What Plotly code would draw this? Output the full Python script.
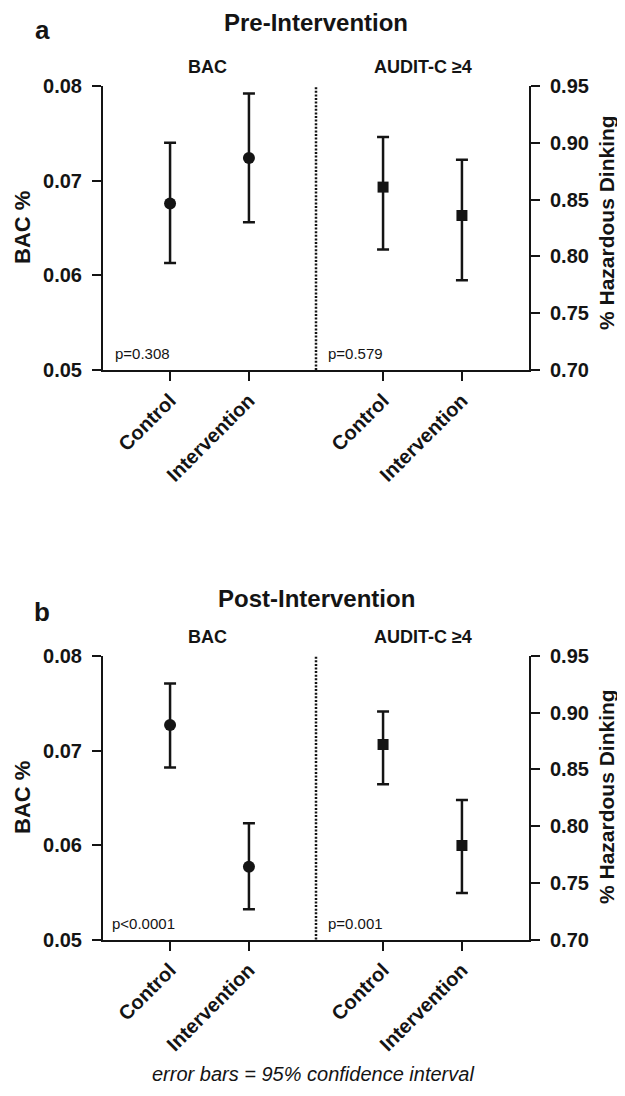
import plotly.graph_objects as go

groups = ["Control", "Intervention"]

# Panel a: Pre-Intervention
pre_bac_mean = [0.0676, 0.0724]
pre_bac_low = [0.0613, 0.0656]
pre_bac_high = [0.0740, 0.0792]
pre_aud_mean = [0.861, 0.836]
pre_aud_low = [0.806, 0.779]
pre_aud_high = [0.905, 0.885]

# Panel b: Post-Intervention
post_bac_mean = [0.0727, 0.0577]
post_bac_low = [0.0682, 0.0532]
post_bac_high = [0.0771, 0.0623]
post_aud_mean = [0.872, 0.783]
post_aud_low = [0.837, 0.741]
post_aud_high = [0.901, 0.823]

p_values = ["p=0.308", "p=0.579", "p<0.0001", "p=0.001"]
bac_ticks = [0.05, 0.06, 0.07, 0.08]
aud_ticks = [0.70, 0.75, 0.80, 0.85, 0.90, 0.95]

FONT = "Liberation Sans, Arial, sans-serif"
INK = "#141414"
OFF = 8  # page body margin
W, H = 625 - OFF, 1096 - 2 * OFF


def px(x):
    return (x - OFF) / W


def py(y):
    return 1 - (y - OFF) / H


fig = go.Figure()


def add_points(mean, low, high, xa, ya, symbol, size):
    fig.add_trace(go.Scatter(
        x=groups, y=mean, mode="markers", xaxis=xa, yaxis=ya,
        marker=dict(symbol=symbol, size=size, color=INK),
        error_y=dict(type="data", symmetric=False,
                     array=[h - m for h, m in zip(high, mean)],
                     arrayminus=[m - l for m, l in zip(mean, low)],
                     color=INK, thickness=2.5, width=6),
        showlegend=False, hoverinfo="skip"))


add_points(pre_bac_mean, pre_bac_low, pre_bac_high, "x", "y", "circle", 12)
add_points(pre_aud_mean, pre_aud_low, pre_aud_high, "x2", "y2", "square", 11)
add_points(post_bac_mean, post_bac_low, post_bac_high, "x3", "y3", "circle", 12)
add_points(post_aud_mean, post_aud_low, post_aud_high, "x4", "y4", "square", 11)

xl0, xmid, xr1 = px(103), px(316), px(529)
top_dom = [py(370), py(86)]
bot_dom = [py(939.5), py(656)]

xcommon = dict(type="category", range=[-0.85, 1.85], showline=True, linewidth=2,
               linecolor=INK, ticks="outside", ticklen=9, tickwidth=2, tickcolor=INK,
               tickangle=-45, showgrid=False, zeroline=False, automargin=False,
               tickfont=dict(family=FONT, size=20, color=INK, weight="bold"))
ycommon = dict(showline=True, linewidth=2, linecolor=INK, ticks="outside", ticklen=9,
               tickwidth=2, tickcolor=INK, showgrid=False, zeroline=False, automargin=False,
               tickformat=".2f", ticklabelstandoff=6,
               tickfont=dict(family=FONT, size=20, color=INK, weight="bold"))

fig.update_layout(
    width=W, height=H, template="none",
    margin=dict(l=0, r=0, t=0, b=0),
    paper_bgcolor="white", plot_bgcolor="white",
    xaxis=dict(xcommon, domain=[xl0, xmid], anchor="y"),
    xaxis2=dict(xcommon, domain=[xmid, xr1], anchor="y2"),
    xaxis3=dict(xcommon, domain=[xl0, xmid], anchor="y3"),
    xaxis4=dict(xcommon, domain=[xmid, xr1], anchor="y4"),
    yaxis=dict(ycommon, domain=top_dom, anchor="x", range=[0.05, 0.08], tickvals=bac_ticks),
    yaxis2=dict(ycommon, domain=top_dom, anchor="x2", side="right", range=[0.70, 0.95], tickvals=aud_ticks),
    yaxis3=dict(ycommon, domain=bot_dom, anchor="x3", range=[0.05, 0.08], tickvals=bac_ticks),
    yaxis4=dict(ycommon, domain=bot_dom, anchor="x4", side="right", range=[0.70, 0.95], tickvals=aud_ticks),
)

# dotted dividers
for yref in ["y domain", "y3 domain"]:
    fig.add_shape(type="line", xref="paper", yref=yref, x0=xmid, x1=xmid, y0=0, y1=1,
                  line=dict(color=INK, width=2.5, dash="2px,1.6px"))


def ann(text, x, y, size, bold=True, angle=0, xanchor="center", italic=False):
    t = "<i>" + text + "</i>" if italic else text
    fig.add_annotation(text=t, xref="paper", yref="paper", x=px(x), y=py(y),
                       xanchor=xanchor, yanchor="middle", showarrow=False, textangle=angle,
                       font=dict(family=FONT, size=size, color=INK,
                                 weight="bold" if bold else "normal"))


ann("a", 42, 30, 26)
ann("Pre-Intervention", 316, 23, 24)
ann("BAC", 207, 67, 18)
ann("AUDIT-C ≥4", 423, 67, 18)
ann("b", 42, 612, 26)
ann("Post-Intervention", 316, 598, 24)
ann("BAC", 207, 637, 18)
ann("AUDIT-C ≥4", 423, 637, 18)

ann("BAC %", 22, 228, 22, angle=-90)
ann("% Hazardous Dinking", 606, 223, 21, angle=-90)
ann("BAC %", 22, 798, 22, angle=-90)
ann("% Hazardous Dinking", 606, 797, 21, angle=-90)

ann(p_values[0], 113, 353, 15, bold=False, xanchor="left")
ann(p_values[1], 326, 353, 15, bold=False, xanchor="left")
ann(p_values[2], 110, 923, 15, bold=False, xanchor="left")
ann(p_values[3], 326, 923, 15, bold=False, xanchor="left")

ann("error bars = 95% confidence interval", 313, 1074, 20, bold=False, italic=True)

fig.write_html("out.html")
